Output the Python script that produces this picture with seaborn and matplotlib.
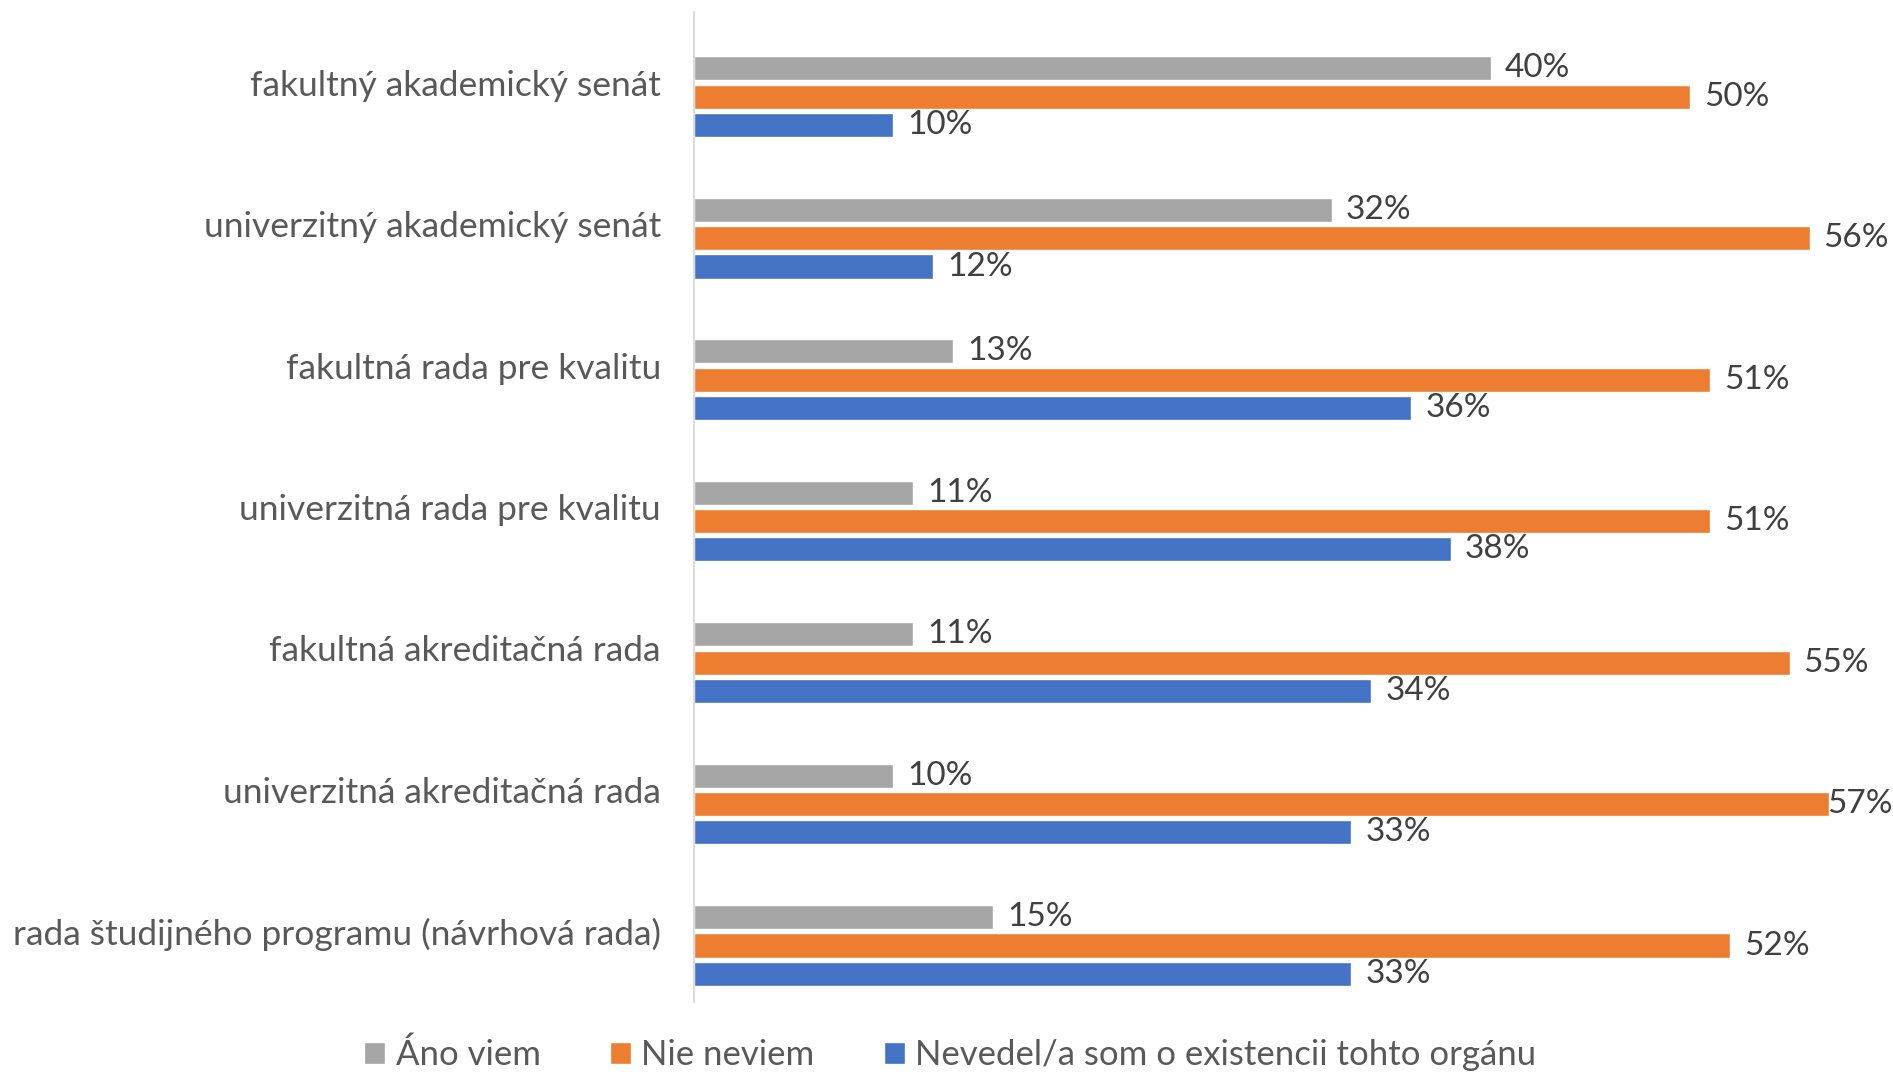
import matplotlib
matplotlib.use("Agg")
import matplotlib.pyplot as plt
import seaborn as sns
import pandas as pd
import numpy as np

categories = [
    "fakultný akademický senát",
    "univerzitný akademický senát",
    "fakultná rada pre kvalitu",
    "univerzitná rada pre kvalitu",
    "fakultná akreditačná rada",
    "univerzitná akreditačná rada",
    "rada študijného programu (návrhová rada)",
]
series_names = ["Áno viem", "Nie neviem", "Nevedel/a som o existencii tohto orgánu"]
ano_viem = [0.40, 0.32, 0.13, 0.11, 0.11, 0.10, 0.15]
nie_neviem = [0.50, 0.56, 0.51, 0.51, 0.55, 0.57, 0.52]
nevedel = [0.10, 0.12, 0.36, 0.38, 0.34, 0.33, 0.33]
colors = ["#A5A5A5", "#ED7D31", "#4472C4"]

rows = []
for s, vals in zip(series_names, [ano_viem, nie_neviem, nevedel]):
    for c, v in zip(categories, vals):
        rows.append({"kategoria": c, "seria": s, "hodnota": v})
df = pd.DataFrame(rows)

FONT = ["Lato", "DejaVu Sans"]
sns.set_theme(style="white")
plt.rcParams["font.family"] = FONT

fig = plt.figure(figsize=(18.93, 10.81), dpi=100)
ax = fig.add_axes([0.3667, 0.073, 0.6313, 0.916])

sns.barplot(data=df, y="kategoria", x="hodnota", hue="seria", order=categories,
            hue_order=series_names, palette=colors, orient="h", width=0.6,
            gap=0.15, saturation=1, ax=ax, legend=True, errorbar=None)

ax.set_xlim(0, 0.6)
ax.set_ylim(6.4, -0.6)
ax.set_yticks(np.arange(len(categories)) - 0.1, categories)
ax.set_xlabel("")
ax.set_ylabel("")
ax.set_xticks([])
ax.tick_params(axis="y", length=0, pad=24, labelsize=25.5, labelcolor="#595959")
for side in ["top", "right", "bottom"]:
    ax.spines[side].set_visible(False)
ax.spines["left"].set_color("#D9D9D9")
ax.spines["left"].set_linewidth(1.3)

fig.canvas.draw()
renderer = fig.canvas.get_renderer()
figw = fig.bbox.width
for cont in ax.containers:
    for patch, v in zip(cont.patches, cont.datavalues):
        y = patch.get_y() + patch.get_height() / 2
        t = ax.annotate(f"{round(v*100):d}%", xy=(patch.get_width(), y),
                        xytext=(10, 0), textcoords="offset points",
                        ha="left", va="center", fontsize=24, color="#404040")
        bb = t.get_window_extent(renderer)
        if bb.x1 > figw - 1:
            t.set_position((-2, 0))

handles, labels = ax.get_legend_handles_labels()
ax.get_legend().remove()
leg = fig.legend(handles, labels, loc="lower center", bbox_to_anchor=(0.502, -0.02),
                 ncol=3, frameon=False, fontsize=25, handlelength=0.6, handleheight=0.6,
                 handletextpad=0.3, columnspacing=2.0)
for t in leg.get_texts():
    t.set_color("#595959")

fig.savefig("out.png", dpi=100)
